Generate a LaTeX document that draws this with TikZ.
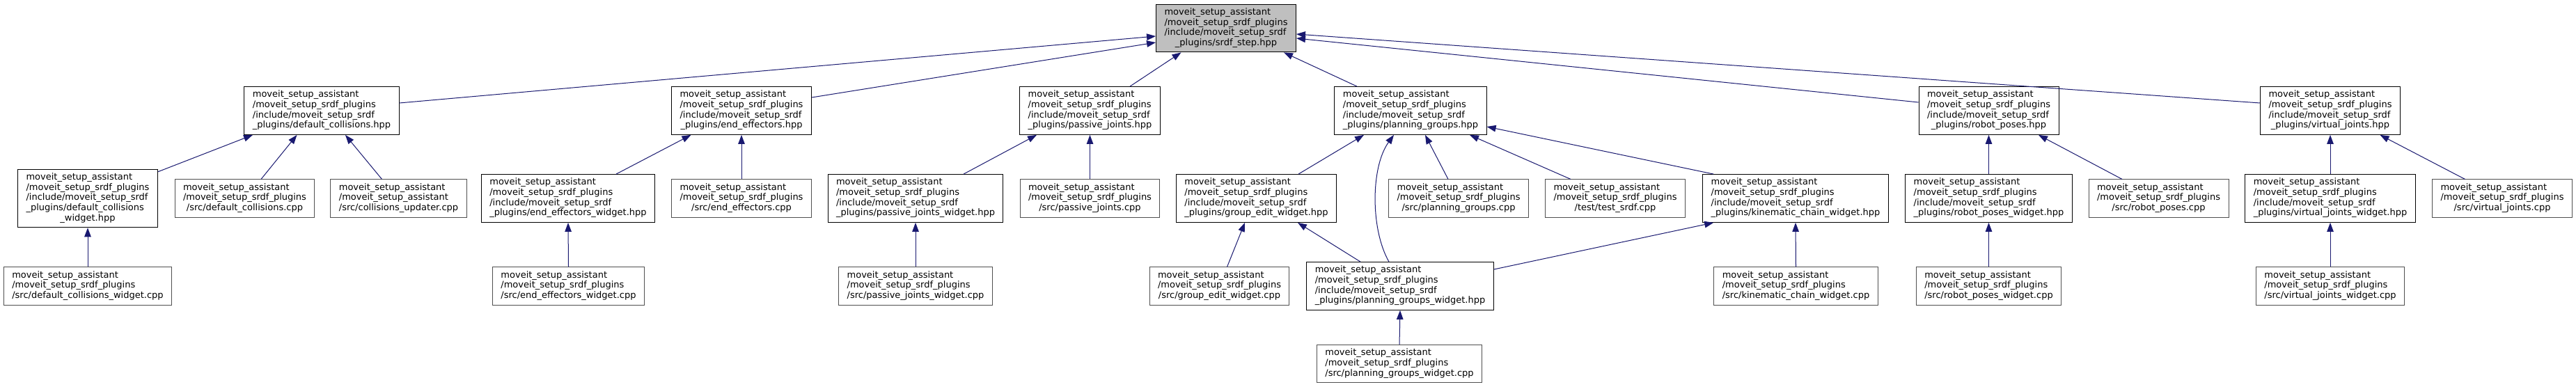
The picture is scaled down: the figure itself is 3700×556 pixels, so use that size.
\documentclass[tikz,border=0pt]{standalone}
\usepackage{fontspec}
\setmainfont{DejaVu Sans}
\usetikzlibrary{arrows.meta}
\definecolor{edgeblue}{HTML}{191970}
\definecolor{cppgray}{HTML}{505050}
\definecolor{topfill}{HTML}{BFBFBF}
\newcommand\dlab[2]{\begin{tabular}{@{}l@{}}#1\\\multicolumn{1}{@{}c@{}}{#2}\end{tabular}}
\newcommand\MSa{moveit\_setup\_assistant}
\newcommand\MSp{/moveit\_setup\_srdf\_plugins}
\newcommand\MSi{/include/moveit\_setup\_srdf}
\tikzset{
  box/.style={draw, line width=1pt, fill=white, inner xsep=12pt, inner ysep=5pt,
              font=\fontsize{13}{14.7}\selectfont},
  hpp/.style={box, draw=black},
  cpp/.style={box, draw=cppgray},
  focus/.style={box, draw=black, fill=topfill},
  dep/.style={draw=edgeblue, line width=1pt, {Triangle[length=13pt,width=9.5pt]}-}
}
\begin{document}
\begin{tikzpicture}[x=1pt, y=-1pt]
\fill[white] (0,0) rectangle (3700,556);
\useasboundingbox (0,0) rectangle (3700,556);
% row 1
\node[focus] (top) at (1761,40.5) {\dlab{\MSa\\\MSp\\\MSi}{\_plugins/srdf\_step.hpp}};
% row 2
\node[hpp] (dc) at (462,159) {\dlab{\MSa\\\MSp\\\MSi}{\_plugins/default\_collisions.hpp}};
\node[hpp] (ee) at (1065,159) {\dlab{\MSa\\\MSp\\\MSi}{\_plugins/end\_effectors.hpp}};
\node[hpp] (pj) at (1565.5,159) {\dlab{\MSa\\\MSp\\\MSi}{\_plugins/passive\_joints.hpp}};
\node[hpp] (pg) at (2026,159) {\dlab{\MSa\\\MSp\\\MSi}{\_plugins/planning\_groups.hpp}};
\node[hpp] (rp) at (2856.5,159) {\dlab{\MSa\\\MSp\\\MSi}{\_plugins/robot\_poses.hpp}};
\node[hpp] (vj) at (3347,159) {\dlab{\MSa\\\MSp\\\MSi}{\_plugins/virtual\_joints.hpp}};
% row 3
\node[hpp] (dcw) at (126,285) {\dlab{\MSa\\\MSp\\\MSi\\\_plugins/default\_collisions}{\_widget.hpp}};
\node[cpp] (dccpp) at (351.5,285) {\dlab{\MSa\\\MSp}{/src/default\_collisions.cpp}};
\node[cpp] (cucpp) at (572.5,285) {\dlab{\MSa\\/moveit\_setup\_assistant}{/src/collisions\_updater.cpp}};
\node[hpp] (eew) at (816,285) {\dlab{\MSa\\\MSp\\\MSi}{\_plugins/end\_effectors\_widget.hpp}};
\node[cpp] (eecpp) at (1065,285) {\dlab{\MSa\\\MSp}{/src/end\_effectors.cpp}};
\node[hpp] (pjw) at (1315,285) {\dlab{\MSa\\\MSp\\\MSi}{\_plugins/passive\_joints\_widget.hpp}};
\node[cpp] (pjcpp) at (1565.5,285) {\dlab{\MSa\\\MSp}{/src/passive\_joints.cpp}};
\node[hpp] (gew) at (1804.5,285) {\dlab{\MSa\\\MSp\\\MSi}{\_plugins/group\_edit\_widget.hpp}};
\node[cpp] (pgcpp) at (2095,285) {\dlab{\MSa\\\MSp}{/src/planning\_groups.cpp}};
\node[cpp] (ts) at (2320,285) {\dlab{\MSa\\\MSp}{/test/test\_srdf.cpp}};
\node[hpp] (kcw) at (2579,285) {\dlab{\MSa\\\MSp\\\MSi}{\_plugins/kinematic\_chain\_widget.hpp}};
\node[hpp] (rpw) at (2856.5,285) {\dlab{\MSa\\\MSp\\\MSi}{\_plugins/robot\_poses\_widget.hpp}};
\node[cpp] (rpcpp) at (3100.5,285) {\dlab{\MSa\\\MSp}{/src/robot\_poses.cpp}};
\node[hpp] (vjw) at (3347,285) {\dlab{\MSa\\\MSp\\\MSi}{\_plugins/virtual\_joints\_widget.hpp}};
\node[cpp] (vjcpp) at (3594,285) {\dlab{\MSa\\\MSp}{/src/virtual\_joints.cpp}};
% row 4
\node[cpp] (dcwcpp) at (126,411) {\dlab{\MSa\\\MSp}{/src/default\_collisions\_widget.cpp}};
\node[cpp] (eewcpp) at (816.5,411) {\dlab{\MSa\\\MSp}{/src/end\_effectors\_widget.cpp}};
\node[cpp] (pjwcpp) at (1315,411) {\dlab{\MSa\\\MSp}{/src/passive\_joints\_widget.cpp}};
\node[cpp] (gewcpp) at (1751.5,411) {\dlab{\MSa\\\MSp}{/src/group\_edit\_widget.cpp}};
\node[hpp] (pgw) at (2011,411) {\dlab{\MSa\\\MSp\\\MSi}{\_plugins/planning\_groups\_widget.hpp}};
\node[cpp] (kcwcpp) at (2579.5,411) {\dlab{\MSa\\\MSp}{/src/kinematic\_chain\_widget.cpp}};
\node[cpp] (rpwcpp) at (2856.5,411) {\dlab{\MSa\\\MSp}{/src/robot\_poses\_widget.cpp}};
\node[cpp] (vjwcpp) at (3347,411) {\dlab{\MSa\\\MSp}{/src/virtual\_joints\_widget.cpp}};
% row 5
\node[cpp] (pgwcpp) at (2010,522.5) {\dlab{\MSa\\\MSp}{/src/planning\_groups\_widget.cpp}};
% edges to top
\draw[dep] ([yshift=-11.5pt]top.west) -- ([yshift=11pt]dc.east);
\draw[dep] ([yshift=-20.5pt]top.west) -- ([yshift=19pt]ee.east);
\draw[dep] ([xshift=-64.5pt]top.south) -- ([xshift=57.5pt]pj.north);
\draw[dep] ([xshift=83pt]top.south) -- ([xshift=-77pt]pg.north);
\draw[dep] ([yshift=-14.5pt]top.east) -- ([yshift=12pt]rp.west);
\draw[dep] ([yshift=-8.5pt]top.east) -- ([yshift=11pt]vj.west);
% row 3 -> row 2
\draw[dep] ([xshift=-99pt]dc.south) -- ([yshift=-4pt]dcw.north east);
\draw[dep] ([xshift=-35.5pt]dc.south) -- ([xshift=23.5pt]dccpp.north);
\draw[dep] ([xshift=34pt]dc.south) -- ([xshift=-24pt]cucpp.north);
\draw[dep] ([xshift=-72.5pt]ee.south) -- ([xshift=69pt]eew.north);
\draw[dep] (ee.south) -- (eecpp.north);
\draw[dep] ([xshift=-76.5pt]pj.south) -- ([xshift=69pt]pjw.north);
\draw[dep] (pj.south) -- (pjcpp.north);
\draw[dep] ([xshift=-67pt]pg.south) -- ([xshift=60.5pt]gew.north);
\draw[dep] ([xshift=-24pt]pg.south) .. controls (1968.5,240) and (1968.5,330) .. ([xshift=-16pt]pgw.north);
\draw[dep] ([xshift=21pt]pg.south) -- ([xshift=-15pt]pgcpp.north);
\draw[dep] ([xshift=85pt]pg.south) -- ([xshift=-64pt]ts.north);
\draw[dep] ([yshift=-23pt]pg.east) -- ([xshift=16pt]kcw.north west);
\draw[dep] (rp.south) -- (rpw.north);
\draw[dep] ([xshift=71.5pt]rp.south) -- ([xshift=-52.5pt]rpcpp.north);
\draw[dep] (vj.south) -- (vjw.north);
\draw[dep] ([xshift=71.5pt]vj.south) -- ([xshift=-53.5pt]vjcpp.north);
% row 4 -> row 3
\draw[dep] (dcw.south) -- (dcwcpp.north);
\draw[dep] (eew.south) -- (eewcpp.north);
\draw[dep] (pjw.south) -- (pjwcpp.north);
\draw[dep] ([xshift=-16.5pt]gew.south) -- ([xshift=11pt]gewcpp.north);
\draw[dep] ([xshift=59.5pt]gew.south) -- ([xshift=-57pt]pgw.north);
\draw[dep] ([xshift=16pt]kcw.south west) -- ([yshift=24pt]pgw.east);
\draw[dep] (kcw.south) -- (kcwcpp.north);
\draw[dep] (rpw.south) -- (rpwcpp.north);
\draw[dep] (vjw.south) -- (vjwcpp.north);
% row 5 -> row 4
\draw[dep] (pgw.south) -- (pgwcpp.north);
\end{tikzpicture}
\end{document}
